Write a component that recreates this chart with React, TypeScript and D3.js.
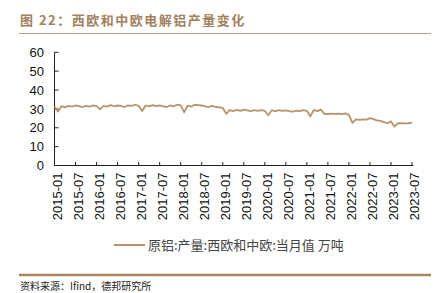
import React from "react";
import * as d3 from "d3";

const startYear = 2015;
const values: number[] = [
  // 2015
  31.3, 28.6, 31.5, 30.8, 31.6, 31.2, 31.8, 31.5, 31.0, 31.6, 31.2, 31.8,
  // 2016
  31.5, 29.8, 31.6, 31.2, 32.0, 31.4, 31.8, 31.6, 31.0, 31.9, 31.6, 32.2,
  // 2017
  31.6, 28.9, 31.8, 31.3, 32.0, 31.5, 31.9, 31.3, 31.0, 31.8, 31.4, 32.2,
  // 2018
  31.9, 28.2, 31.7, 31.2, 32.2, 32.0, 31.8, 31.4, 31.0, 31.6, 31.0, 30.8,
  // 2019
  30.5, 27.4, 29.4, 28.8, 29.5, 29.0, 29.6, 29.2, 28.8, 29.3, 29.0, 29.4,
  // 2020
  29.0, 26.6, 29.3, 28.7, 29.4, 28.9, 29.2, 28.8, 28.5, 29.1, 28.8, 29.3,
  // 2021
  29.0, 26.0, 29.5, 28.8, 29.6, 27.4, 27.3, 27.5, 27.4, 27.5, 27.2, 27.6,
  // 2022
  26.8, 22.6, 24.5, 24.2, 24.4, 24.3, 25.1, 24.6, 23.9, 23.6, 23.0, 22.4,
  // 2023
  23.4, 20.6, 22.4, 22.5, 22.3, 22.4, 22.7,
];
const months: string[] = values.map((_, i) => {
  const y = startYear + Math.floor(i / 12);
  const m = (i % 12) + 1;
  return `${y}-${m < 10 ? "0" + m : m}`;
});
const yTicks: number[] = [0, 10, 20, 30, 40, 50, 60];
const xTickLabels: string[] = months.filter((_, i) => i % 6 === 0);

const title = "图 22：西欧和中欧电解铝产量变化";
const legendLabel = "原铝:产量:西欧和中欧:当月值 万吨";
const source = "资料来源：Ifind，德邦研究所";

export default function App() {
  const W = 437;
  const H = 293;
  const x = d3.scalePoint<string>().domain(months).range([54.5, 412]);
  const y = d3.scaleLinear().domain([0, 60]).range([165.5, 52.3]);
  const line = d3
    .line<number>()
    .x((_, i) => x(months[i]) as number)
    .y((d) => y(d));
  const lineColor = "#b8946c";
  const axisColor = "#222";
  const latin = "'Liberation Sans', Arial, sans-serif";
  const cjk = "'Noto Sans CJK SC', 'Liberation Sans', sans-serif";
  return (
    <svg
      width={W}
      height={H}
      style={{ position: "absolute", left: 0, top: 0, background: "#fff" }}
    >
      <text
        x={20}
        y={25}
        fontFamily={cjk}
        fontWeight={700}
        fontSize={13}
        letterSpacing={1.5}
        fill="#a3825f"
      >
        {title}
      </text>
      <line x1={19} x2={431} y1={33.5} y2={33.5} stroke="#b9a089" strokeWidth={1} />

      {/* y axis */}
      <line x1={54.5} x2={54.5} y1={y(60)} y2={y(0)} stroke={axisColor} strokeWidth={1} />
      {yTicks.map((t) => (
        <g key={t}>
          <line x1={54.5} x2={58.5} y1={y(t)} y2={y(t)} stroke={axisColor} />
          <text
            x={44}
            y={y(t)}
            dy="0.36em"
            textAnchor="end"
            fontFamily={latin}
            fontSize={13}
            fill="#111"
          >
            {t}
          </text>
        </g>
      ))}

      {/* x axis */}
      <line x1={54.5} x2={413.5} y1={y(0)} y2={y(0)} stroke={axisColor} strokeWidth={1} />
      {xTickLabels.map((m) => {
        const px = x(m) as number;
        return (
          <g key={m}>
            <line x1={px} x2={px} y1={y(0)} y2={y(0) - 3.5} stroke={axisColor} />
            <text
              transform={`translate(${px + 2.5},${y(0) + 7}) rotate(-90)`}
              textAnchor="end"
              dy="0.36em"
              fontFamily={latin}
              fontSize={13}
              fill="#111"
            >
              {m}
            </text>
          </g>
        );
      })}

      <path d={line(values) || ""} fill="none" stroke={lineColor} strokeWidth={1.8} strokeLinejoin="round" />

      {/* legend */}
      <line x1={114} x2={145} y1={245} y2={245} stroke={lineColor} strokeWidth={2} />
      <text x={148} y={245} dy="0.36em" fontFamily={cjk} fontSize={13} fill="#444">
        {legendLabel}
      </text>

      <line x1={19} x2={431} y1={275} y2={275} stroke="#a8835c" strokeWidth={2.5} />
      <text x={20} y={286} dy="0.36em" fontFamily={cjk} fontSize={10} fill="#222">
        {source}
      </text>
    </svg>
  );
}
